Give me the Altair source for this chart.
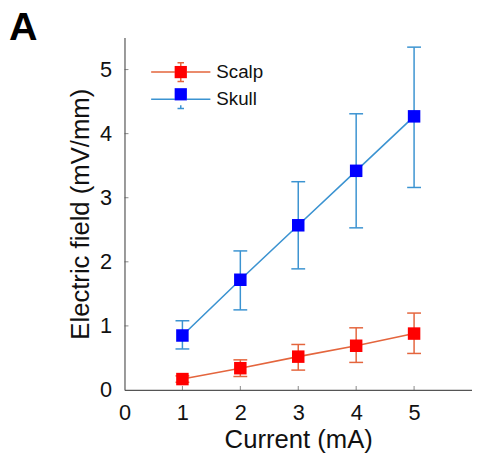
import altair as alt
import pandas as pd

current = [1, 2, 3, 4, 5]
series = ["Scalp", "Skull"]
scalp_mean = [0.17, 0.34, 0.52, 0.69, 0.88]
scalp_lo = [0.12, 0.21, 0.31, 0.43, 0.57]
scalp_hi = [0.22, 0.47, 0.71, 0.97, 1.20]
skull_mean = [0.85, 1.72, 2.57, 3.42, 4.27]
skull_lo = [0.64, 1.25, 1.89, 2.53, 3.16]
skull_hi = [1.08, 2.17, 3.25, 4.31, 5.35]
line_colors = ["#E4653D", "#3B93D1"]
marker_colors = ["#FF0000", "#0000FF"]
tick_vals = [0, 1, 2, 3, 4, 5]
inner_ticks = [1, 2, 3, 4, 5]
panel_label = ["A"]

rows = []
for name, m, lo, hi in [("Scalp", scalp_mean, scalp_lo, scalp_hi),
                        ("Skull", skull_mean, skull_lo, skull_hi)]:
    for c, mv, l, h in zip(current, m, lo, hi):
        rows.append({"current": c, "value": mv, "lo": l, "hi": h,
                     "S": name, "N": name})
df = pd.DataFrame(rows)
ticks_df = pd.DataFrame({"t": inner_ticks})
label_df = pd.DataFrame({"lab": panel_label})

FONT = "Liberation Sans"
W, H = 352, 357

xs = alt.Scale(domain=[0, 6], nice=False, zero=False)
ys = alt.Scale(domain=[0, 5.5], nice=False, zero=False)

err_path = ("M-3,0H-0.6M0.6,0H3"
            "M0,-0.95V-0.6M0,0.6V0.95"
            "M-0.33,-0.95H0.33M-0.33,0.95H0.33")
sq_path = "M-0.62,-0.62H0.62V0.62H-0.62Z"

leg_common = dict(orient="none", legendX=46, legendY=24, title=None,
                  symbolSize=400, labelFontSize=19, labelFont=FONT,
                  labelColor="#111", labelOffset=25, rowPadding=1.5,
                  padding=0, symbolOffset=0, values=series,
                  symbolStrokeWidth=1.5)

stroke_leg = alt.Legend(symbolType=err_path,
                        symbolFillColor="transparent", **leg_common)
fill_leg = alt.Legend(symbolType=sq_path, symbolStrokeColor="transparent",
                      labelOpacity=0, labelExpr="''", **leg_common)

stroke_enc = alt.Stroke("S:N", scale=alt.Scale(domain=series, range=line_colors),
                        legend=stroke_leg)
fill_enc = alt.Fill("N:N",
                    scale=alt.Scale(domain=series + ["_"],
                                    range=marker_colors + ["#000000"]),
                    legend=fill_leg)

xaxis = alt.Axis(values=tick_vals, title="Current (mA)", grid=False, format="d",
                 tickSize=0, domainColor="#555", domainWidth=1.2,
                 labelFontSize=22, titleFontSize=26, labelFont=FONT,
                 titleFont=FONT, labelColor="#111", titleColor="#111",
                 titleFontWeight="normal", labelPadding=13, titlePadding=3,
                 labelFlush=False)
yaxis = alt.Axis(values=tick_vals, title="Electric field (mV/mm)", grid=False,
                 format="d",
                 tickSize=0, domainColor="#555", domainWidth=1.2,
                 labelFontSize=22, titleFontSize=26, labelFont=FONT,
                 titleFont=FONT, labelColor="#111", titleColor="#111",
                 titleFontWeight="normal", labelPadding=13, titlePadding=6,
                 labelFlush=False)

base = alt.Chart(df)

err = base.mark_rule(strokeWidth=1.5).encode(
    x=alt.X("current:Q", scale=xs, axis=xaxis),
    y=alt.Y("lo:Q", scale=ys, axis=yaxis),
    y2="hi:Q",
    stroke=stroke_enc,
)
cap_hi = base.mark_rule(strokeWidth=1.5, xOffset=-7, x2Offset=7).encode(
    x=alt.X("current:Q", scale=xs), x2="current:Q",
    y=alt.Y("hi:Q", scale=ys), stroke=stroke_enc,
)
cap_lo = base.mark_rule(strokeWidth=1.5, xOffset=-7, x2Offset=7).encode(
    x=alt.X("current:Q", scale=xs), x2="current:Q",
    y=alt.Y("lo:Q", scale=ys), stroke=stroke_enc,
)
line = base.mark_line(strokeWidth=1.6).encode(
    x=alt.X("current:Q", scale=xs),
    y=alt.Y("value:Q", scale=ys),
    stroke=stroke_enc,
)
pts = base.mark_point(shape="square", filled=True, size=160, opacity=1).encode(
    x=alt.X("current:Q", scale=xs),
    y=alt.Y("value:Q", scale=ys),
    fill=fill_enc,
)

xt = alt.Chart(ticks_df).mark_tick(orient="vertical", size=4, thickness=1,
                                   yOffset=-2, color="#555").encode(
    x=alt.X("t:Q", scale=xs), y=alt.datum(0))
yt = alt.Chart(ticks_df).mark_tick(orient="horizontal", size=4, thickness=1,
                                   xOffset=2, color="#555").encode(
    y=alt.Y("t:Q", scale=ys), x=alt.datum(0))

panel = alt.Chart(label_df).mark_text(
    align="left", baseline="alphabetic", fontSize=40, fontWeight="bold",
    font=FONT, color="#000").encode(
    text="lab:N", x=alt.value(-117), y=alt.value(3))

chart = alt.layer(xt, yt, err, cap_hi, cap_lo, line, pts, panel).properties(
    width=W, height=H,
    autosize=alt.AutoSizeParams(type="none"),
    padding={"left": 118, "top": 27, "right": 0, "bottom": 66},
).configure_view(stroke=None)

chart.save("out.html", embed_options={"renderer": "svg", "actions": False})
